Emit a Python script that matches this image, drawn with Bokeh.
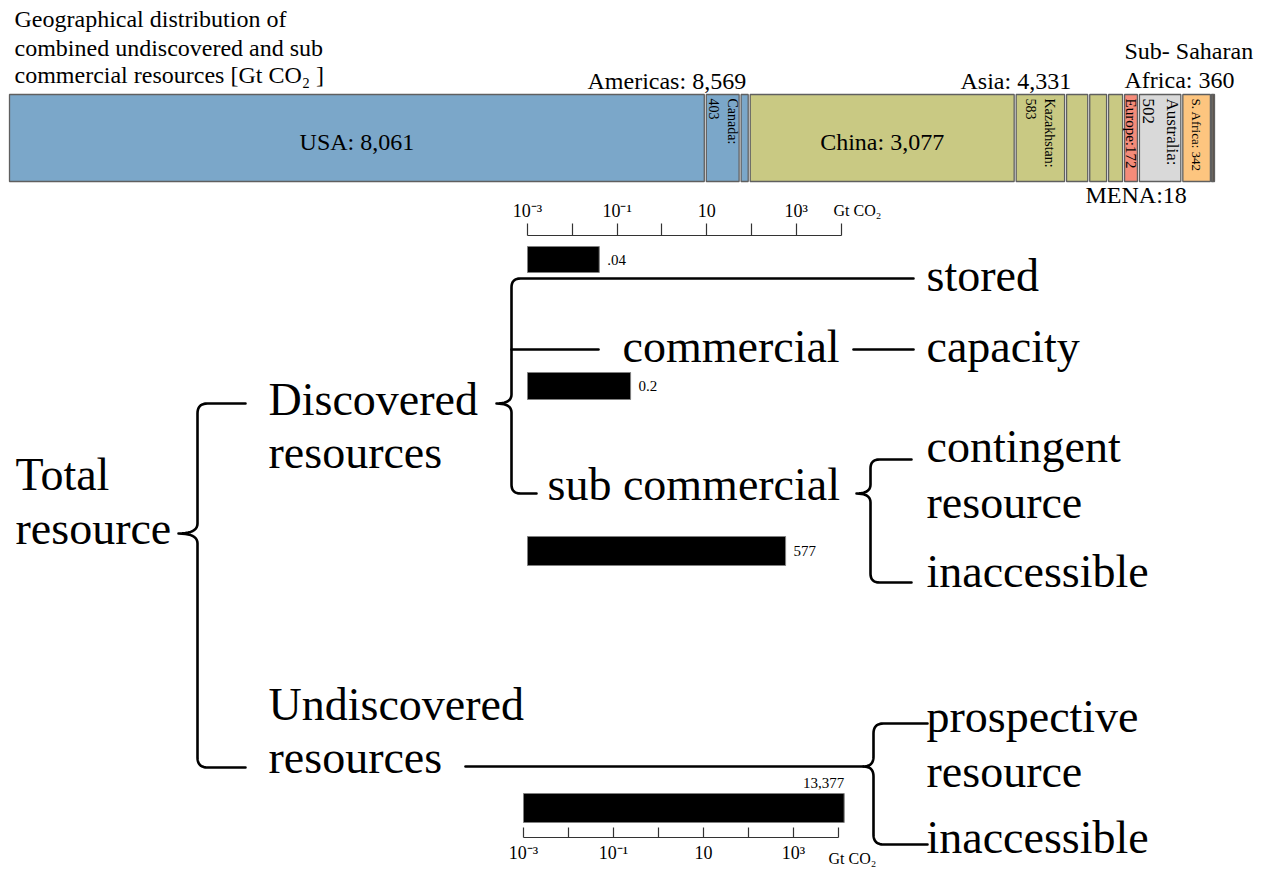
import math
from bokeh.plotting import figure
from bokeh.models import (Range1d, LinearScale, LogScale, LogAxis, FixedTicker,
                          CustomJSTickFormatter, ColumnDataSource)
from bokeh.core.properties import value, field
from bokeh.embed import file_html
from bokeh.resources import INLINE

# ---------------- data ----------------
geo_regions = ["USA", "Canada", "Other Americas", "China", "Kazakhstan",
               "Other Asia A", "Other Asia B", "Other Asia C", "Europe",
               "Australia", "S. Africa", "Other Sub-Saharan Africa", "MENA"]
geo_groups = ["Americas", "Americas", "Americas", "Asia", "Asia", "Asia", "Asia", "Asia",
              "Europe", "Australia", "Sub-Saharan Africa", "Sub-Saharan Africa", "MENA"]
geo_values = [8061, 403, 105, 3077, 583, 268, 218, 185, 172, 502, 342, 18, 18]
group_colors = {"Americas": "#7BA7C9", "Asia": "#C9C983", "Europe": "#F48B79",
                "Australia": "#D9D9D9", "Sub-Saharan Africa": "#FDC57F", "MENA": "#5B3B24"}
# label style per segment: "h" horizontal, "v" vertical two lines, "v1" vertical one line, "" none
geo_label_style = ["h", "v", "", "h", "v", "", "", "", "v1", "v", "v1", "", ""]
geo_label_names = ["USA", "Canada", "", "China", "Kazakhstan", "", "", "", "Europe",
                   "Australia", "S. Africa", "", ""]

resource_classes = ["stored", "commercial", "sub commercial", "undiscovered"]
resource_values = [0.04, 0.2, 577, 13377]
resource_labels = [".04", "0.2", "577", "13,377"]

axis_ticks = [1e-3, 1e-2, 1e-1, 1.0, 10.0, 100.0, 1e3, 1e4]
axis_tick_labels = ["10⁻³", "", "10⁻¹", "", "10", "", "10³", ""]

SERIF = "Liberation Serif"

# ---------------- layout constants ----------------
X0, X1, Y0, Y1 = 0, 1264, 0, 872
GEO_L, GEO_R, GEO_T, GEO_B = 8, 1214, 94, 181

def mid(baseline, fs):
    # convert a text baseline position to the centre used with text_baseline="middle"
    return baseline - 0.34 * fs

p = figure(width=X1 - X0, height=Y1 - Y0, x_range=Range1d(X0, X1), y_range=Range1d(Y1, Y0),
           output_backend="svg", toolbar_location=None, x_axis_type=None, y_axis_type=None,
           min_border=0)
p.min_border_left = p.min_border_right = p.min_border_top = p.min_border_bottom = 0
p.outline_line_color = None
p.background_fill_color = "white"
p.border_fill_color = "white"

# geo scale
geo_total = sum(geo_values)
u = geo_total / (GEO_R - GEO_L)          # geo units per pixel
geo_start = -(GEO_L - X0) * u
geo_end = (X1 - GEO_L) * u

# log scales
def log_range(anchor_px, px_per_dec):
    start = 10 ** (-3 - (anchor_px - X0) / px_per_dec)
    end = 10 ** (-3 + (X1 - anchor_px) / px_per_dec)
    return Range1d(start, end)

p.extra_x_ranges = {"geo": Range1d(geo_start, geo_end),
                    "logtop": log_range(527, 44.8),
                    "logbot": log_range(523, 45.0)}
p.extra_x_scales = {"geo": LinearScale(), "logtop": LogScale(), "logbot": LogScale()}

# ---------------- geographic stacked bar ----------------
lefts, rights = [], []
acc = 0
for v in geo_values:
    lefts.append(acc)
    acc += v
    rights.append(acc)
centers = [(a + b) / 2 for a, b in zip(lefts, rights)]
colors = [group_colors[g] for g in geo_groups]
gap = 1.0 * u   # half of the white gap between segments
ql = [a + gap if (b - a) > 6 * u else a for a, b in zip(lefts, rights)]
qr = [b - gap if (b - a) > 6 * u else b for a, b in zip(lefts, rights)]
p.quad(left=ql, right=qr, top=GEO_T, bottom=GEO_B, x_range_name="geo",
       fill_color=colors, line_color="#5f5f5f", line_width=1.3)

hx, ht = [], []
vx, vt, vfs = [], [], []
vsize = {"Canada": "14px", "Kazakhstan": "14px", "Europe": "15px", "Australia": "17px", "S. Africa": "13px"}
for c, st, nm, v in zip(centers, geo_label_style, geo_label_names, geo_values):
    if st == "h":
        hx.append(c); ht.append(f"{nm}: {v:,}")
    elif st == "v":
        vx.append(c); vt.append(f"{nm}:\n{v}"); vfs.append(vsize[nm])
    elif st == "v1":
        sep = ":" if nm == "Europe" else ": "
        vx.append(c); vt.append(f"{nm}{sep}{v}"); vfs.append(vsize[nm])
p.text(x=hx, y=141, text=ht, x_range_name="geo", text_align="center", text_baseline="middle",
       text_font=value(SERIF), text_font_size="24px", text_color="black")
p.text(x="x", y=98, text="t", source=ColumnDataSource(dict(x=vx, t=vt, fs=vfs)),
       x_range_name="geo", angle=-math.pi / 2, text_align="left", text_baseline="middle",
       text_font=value(SERIF), text_font_size=field("fs"), text_color="black",
       text_line_height=1.25)

def gsum(g):
    return sum(v for v, gg in zip(geo_values, geo_groups) if gg == g)

hdr_text = ["Geographical distribution of", "combined undiscovered and sub",
            "commercial resources [Gt CO₂ ]",
            f"Americas: {gsum('Americas'):,}", f"Asia: {gsum('Asia'):,}",
            "Sub- Saharan", f"Africa: {gsum('Sub-Saharan Africa'):,}",
            f"MENA:{gsum('MENA')}"]
hdr_x = [14, 14, 14, 587, 960, 1124, 1124, 1085]
hdr_base = [27, 56, 83, 89, 89, 59, 88, 203]
p.text(x=hdr_x, y=[mid(b, 24) for b in hdr_base], text=hdr_text, text_align="left",
       text_baseline="middle", text_font=value(SERIF), text_font_size="24px",
       text_color="black")

# ---------------- tree diagram ----------------
def bez(p0, c, p1, n=10):
    pts = []
    for i in range(n + 1):
        t = i / n
        x = (1 - t) ** 2 * p0[0] + 2 * (1 - t) * t * c[0] + t ** 2 * p1[0]
        y = (1 - t) ** 2 * p0[1] + 2 * (1 - t) * t * c[1] + t ** 2 * p1[1]
        pts.append((x, y))
    return pts

def brace(xs_, yt, ytip, yb, xtip, xat, xab, r=9):
    pts = [(xat, yt)]
    pts += bez((xs_ + r, yt), (xs_, yt), (xs_, yt + r))
    pts += bez((xs_, ytip - r), (xs_, ytip), (xtip, ytip))
    pts += bez((xtip, ytip), (xs_, ytip), (xs_, ytip + r))
    pts += bez((xs_, yb - r), (xs_, yb), (xs_ + r, yb))
    pts.append((xab, yb))
    return [q[0] for q in pts], [q[1] for q in pts]

paths = [
    brace(197, 403, 533, 767, 178, 245, 245, r=10),
    brace(511, 278, 403, 493, 496, 913, 536, r=9),
    brace(870, 459, 493, 582, 856, 911, 911, r=9),
    brace(873, 723, 766, 844, 863, 927, 927, r=10),
    ([511, 598], [349, 349]),
    ([853, 913], [349, 349]),
    ([465, 863], [766, 766]),
]
p.multi_line(xs=[a for a, b in paths], ys=[b for a, b in paths], line_color="black",
             line_width=2.6, line_join="round", line_cap="round")

big = [("Total", 15, 490), ("resource", 15, 544), ("Discovered", 268, 415),
       ("resources", 268, 468), ("Undiscovered", 268, 720), ("resources", 268, 773),
       ("stored", 926, 291), ("commercial", 622, 362), ("capacity", 926, 362),
       ("sub commercial", 547, 500), ("contingent", 926, 462), ("resource", 926, 518),
       ("inaccessible", 926, 587), ("prospective", 926, 732), ("resource", 926, 787),
       ("inaccessible", 926, 853)]
p.text(x=[b[1] for b in big], y=[mid(b[2], 46) for b in big], text=[b[0] for b in big],
       text_align="left", text_baseline="middle", text_font=value(SERIF),
       text_font_size="46px", text_color="black")

# ---------------- log bars ----------------
bar_rows = [(246, 272), (372, 399), (536, 565), (793, 822)]
p.quad(left=1e-3, right=resource_values[:3], top=[r[0] for r in bar_rows[:3]],
       bottom=[r[1] for r in bar_rows[:3]], x_range_name="logtop",
       fill_color="black", line_color="#808080", line_width=1)
p.quad(left=1e-3, right=resource_values[3:], top=[r[0] for r in bar_rows[3:]],
       bottom=[r[1] for r in bar_rows[3:]], x_range_name="logbot",
       fill_color="black", line_color="#808080", line_width=1)
p.text(x=resource_values[:3], y=[(a + b) / 2 for a, b in bar_rows[:3]], text=resource_labels[:3],
       x_range_name="logtop", x_offset=8, text_align="left", text_baseline="middle",
       text_font=value(SERIF), text_font_size="15px", text_color="black")
p.text(x=resource_values[3:], y=[mid(bar_rows[3][0] - 5, 15)], text=resource_labels[3:],
       x_range_name="logbot", text_align="right", text_baseline="middle",
       text_font=value(SERIF), text_font_size="15px", text_color="black")

# ---------------- log axes ----------------
fmt = CustomJSTickFormatter(args=dict(tv=axis_ticks, tl=axis_tick_labels), code="""
    for (let i = 0; i < tv.length; i++) {
        if (Math.abs(Math.log10(tv[i]) - Math.log10(tick)) < 1e-6) return tl[i];
    }
    return "";
""")

def make_axis(rng, loc, tin, tout, standoff):
    return LogAxis(x_range_name=rng, fixed_location=loc, bounds=(axis_ticks[0], axis_ticks[-1]),
                   ticker=FixedTicker(ticks=axis_ticks, minor_ticks=[]), formatter=fmt,
                   major_tick_in=tin, major_tick_out=tout, minor_tick_in=0, minor_tick_out=0,
                   axis_line_color="#333333", axis_line_width=1.2,
                   major_tick_line_color="#333333", major_tick_line_width=1.2,
                   major_label_text_font=SERIF, major_label_text_font_size="18px",
                   major_label_text_color="black", major_label_standoff=standoff)

p.add_layout(make_axis("logtop", 235, 0, 12, 3), "above")
p.add_layout(make_axis("logbot", 837, 10, 0, 5), "below")

p.text(x=[833, 828], y=[mid(215, 16), mid(863, 16)], text=["Gt CO₂", "Gt CO₂"],
       text_align="left", text_baseline="middle", text_font=value(SERIF),
       text_font_size="16px", text_color="black")

open("out.html", "w").write(file_html(p, INLINE))
